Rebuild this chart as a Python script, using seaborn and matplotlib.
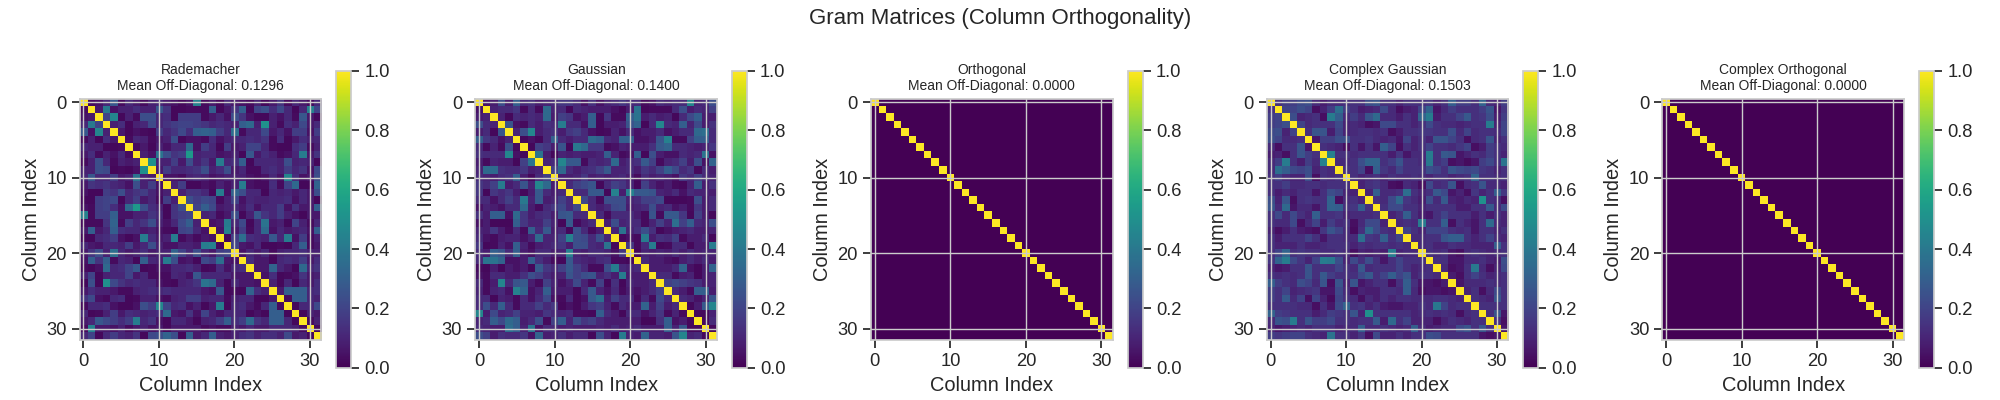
import numpy as np
import matplotlib
matplotlib.use("Agg")
import matplotlib.pyplot as plt
import seaborn as sns

N_COLS = 32

titles = ["Rademacher", "Gaussian", "Orthogonal", "Complex Gaussian", "Complex Orthogonal"]
mean_off_diag = [0.1296, 0.1400, 0.0000, 0.1503, 0.0000]

# Upper triangles of the Gram matrices in hundredths, one list per row above the diagonal.
rademacher_rows = [
    [3,5,11,27,3,11,7,3,9,11,7,5,2,5,44,3,7,2,11,7,5,3,9,2,7,15,3,11,7,3,11],
    [7,40,5,9,9,13,9,9,27,15,2,2,3,3,3,30,2,7,15,30,2,20,24,13,22,11,2,11,44,20],
    [20,46,2,9,3,24,24,11,13,2,18,18,18,3,7,11,5,24,15,5,2,2,9,5,11,3,27,7,2],
    [9,13,2,9,11,22,11,15,18,20,20,18,15,11,13,11,9,30,34,9,50,9,3,13,9,22,7,12],
    [7,2,5,3,2,18,11,15,22,13,30,32,30,18,11,36,3,11,11,22,7,11,5,18,18,5,18],
    [3,11,9,3,7,9,24,2,5,5,3,13,5,9,11,11,13,11,15,3,13,2,7,13,9,11],
    [3,7,2,9,5,11,11,34,5,18,11,2,18,7,9,20,20,11,3,2,2,13,18,3,9],
    [9,5,38,24,15,18,54,9,11,11,5,7,9,2,27,7,13,9,3,5,11,42,7,15],
    [50,9,9,18,7,24,9,15,7,42,11,13,30,2,11,11,11,9,24,9,11,9,2],
    [7,18,11,11,13,15,24,9,13,24,7,11,3,3,11,13,9,18,11,15,5,22],
    [5,5,3,9,11,9,5,7,9,9,9,5,3,5,11,5,46,13,5,7,24],
    [9,18,2,2,5,3,9,5,9,42,5,3,3,13,3,20,34,2,2,32],
    [9,15,15,11,2,42,5,32,24,11,11,2,11,9,11,7,11,7,24],
    [24,18,22,20,3,9,20,5,11,9,9,11,11,13,5,11,7,2],
    [20,30,22,7,9,11,7,13,5,11,11,18,5,15,7,7,30],
    [9,11,3,7,24,2,9,27,15,11,18,9,5,2,7,7],
    [5,7,42,11,22,2,11,38,7,9,2,20,9,3,11],
    [5,44,7,18,3,11,34,5,11,7,9,11,5,30],
    [2,18,36,13,11,9,27,11,42,5,18,3,9],
    [20,7,5,11,2,2,3,2,11,30,3,7],
    [5,11,7,11,3,9,11,11,13,9,9],
    [13,7,7,2,11,13,11,18,7,13],
    [7,7,32,11,7,2,34,11,15],
    [5,13,2,3,5,15,7,9],
    [9,2,11,2,11,7,13],
    [7,30,30,30,11,13],
    [3,30,30,11,9],
    [2,11,11,22],
    [2,9,7],
    [3,9],
    [2],
]

gaussian_rows = [
    [5,8,24,8,30,12,14,8,10,12,16,16,12,5,14,5,10,12,16,12,12,3,5,12,10,12,12,46,10,12,24],
    [10,12,12,16,3,12,3,34,10,12,2,12,10,8,8,8,5,2,8,38,2,3,3,3,12,24,8,12,10,19],
    [10,2,12,10,12,10,34,8,19,16,5,8,30,2,16,3,3,30,38,8,12,8,10,2,12,22,30,8,8],
    [26,5,3,12,8,14,12,42,12,12,5,30,2,8,8,10,26,32,2,12,46,12,10,30,10,22,8,14],
    [10,24,46,8,12,14,8,16,19,12,5,2,3,10,5,12,5,8,8,12,5,8,12,12,34,36,12],
    [2,5,2,12,30,12,8,12,12,34,30,12,10,30,30,5,5,8,26,44,3,3,19,30,30,12],
    [2,19,16,8,26,2,40,34,16,16,3,5,10,8,8,8,14,28,32,12,12,10,8,10,16],
    [38,8,2,10,8,10,8,8,10,30,10,3,5,30,2,24,8,5,5,12,10,12,38,5],
    [10,12,46,28,28,3,12,10,12,34,8,12,14,28,19,3,10,12,19,8,24,5,32],
    [19,34,12,8,12,14,19,28,10,10,12,8,16,12,19,30,22,12,16,3,12,8],
    [8,8,10,16,8,10,8,10,12,8,3,12,8,10,8,5,16,12,19,12,10],
    [12,19,22,26,2,12,19,16,10,2,19,10,5,8,3,2,10,30,8,14],
    [12,12,28,28,2,44,8,44,28,28,26,10,8,12,5,12,10,10,8],
    [22,12,3,24,24,24,10,12,19,19,22,2,2,2,3,24,8,12],
    [12,8,12,22,24,8,10,12,24,10,12,5,8,3,16,8,12],
    [12,3,12,12,12,8,3,26,3,28,28,16,2,19,8,2],
    [8,24,10,12,12,3,10,19,10,36,19,30,12,10,24],
    [10,38,10,14,24,14,2,5,8,10,12,8,8,10],
    [2,5,3,42,8,14,12,19,3,8,8,12,2],
    [16,3,12,42,2,3,12,12,2,8,8,42],
    [2,10,8,10,8,12,8,12,8,10,10],
    [12,8,8,5,3,8,12,8,12,8],
    [8,8,8,12,32,5,2,8,32],
    [12,12,3,8,10,2,8,10],
    [19,22,19,16,14,8,10],
    [12,8,3,30,30,8],
    [12,10,5,10,26],
    [2,8,28,46],
    [2,2,10],
    [2,12],
    [2],
]

complex_gaussian_rows = [
    [14,18,18,22,24,12,8,12,12,14,14,14,24,26,14,14,10,14,14,14,16,10,14,30,18,18,14,32,12,10,18],
    [20,20,24,20,4,10,18,36,18,14,8,10,12,22,12,4,8,10,20,32,6,12,18,14,14,14,18,26,6,16],
    [24,10,12,14,4,42,30,12,18,12,26,34,12,12,8,14,10,32,42,8,14,14,20,28,14,16,24,8,18],
    [20,12,14,14,14,22,10,12,10,4,6,22,22,14,14,10,14,22,14,12,12,10,12,14,14,42,10,20],
    [14,26,26,8,20,10,12,14,14,12,14,4,8,14,14,16,16,14,14,24,12,20,12,14,14,12,20],
    [6,18,18,24,24,14,14,16,12,10,12,6,20,10,14,10,26,26,20,14,4,12,14,26,10,14],
    [14,12,10,4,14,6,14,6,30,20,4,14,10,14,20,14,14,12,16,20,4,8,18,14,12],
    [44,14,14,12,14,14,14,14,8,16,6,12,12,42,14,28,26,6,10,14,12,18,14,10],
    [12,12,14,24,32,32,14,18,26,14,14,12,40,14,18,4,6,3,6,18,22,14,38],
    [14,14,20,4,30,16,12,20,14,14,14,24,20,14,26,22,20,22,16,14,10,14],
    [14,10,12,14,10,14,12,12,14,12,10,14,14,10,12,14,32,14,14,12,14],
    [10,14,16,12,4,3,12,10,4,22,12,14,26,4,12,14,26,12,12,10],
    [10,30,12,12,14,36,14,10,14,28,22,6,10,4,16,10,14,30,16],
    [14,12,22,34,16,12,8,24,12,28,10,8,12,10,50,14,12,4],
    [14,22,22,14,14,10,14,14,14,14,8,8,14,14,28,12,22],
    [10,14,30,14,8,6,14,20,14,14,14,8,14,8,14,10],
    [12,14,12,42,14,14,30,4,14,10,6,14,34,12,10],
    [20,14,10,20,20,20,14,12,14,6,14,14,10,14],
    [12,12,14,14,26,30,30,14,10,14,20,12,10],
    [12,14,10,10,14,12,12,10,10,10,30,14],
    [14,12,14,6,4,12,14,12,10,12,14],
    [14,14,6,6,12,12,14,10,8,24],
    [12,4,6,14,40,12,4,10,22],
    [8,4,14,20,14,10,12,14],
    [6,12,12,12,14,12,14],
    [10,14,4,12,22,14],
    [14,12,10,26,14],
    [14,14,14,14],
    [14,26,6],
    [14,4],
    [6],
]


def gram_from_rows(rows):
    """Build the symmetric Gram matrix with a unit diagonal."""
    gram = np.eye(N_COLS)
    for i, row in enumerate(rows):
        for offset, value in enumerate(row):
            j = i + 1 + offset
            gram[i, j] = gram[j, i] = value / 100
    return gram


matrices = [
    gram_from_rows(rademacher_rows),
    gram_from_rows(gaussian_rows),
    np.eye(N_COLS),
    gram_from_rows(complex_gaussian_rows),
    np.eye(N_COLS),
]

sns.set_theme(style="whitegrid", context="notebook", font_scale=1.2)
plt.rcParams["font.family"] = ["Liberation Sans", "DejaVu Sans"]
plt.rcParams.update({"xtick.bottom": True, "ytick.left": True})

fig, axes = plt.subplots(1, 5, figsize=(20, 4), dpi=100)
for ax, gram, name, mean_value in zip(axes, matrices, titles, mean_off_diag):
    im = ax.imshow(gram, cmap="viridis", vmin=0, vmax=1)
    ax.set_title(f"{name}\nMean Off-Diagonal: {mean_value:.4f}", fontsize=10)
    ax.set_xlabel("Column Index")
    ax.set_ylabel("Column Index")
    fig.colorbar(im, ax=ax)

fig.suptitle("Gram Matrices (Column Orthogonality)", fontsize=16)
fig.tight_layout()
fig.savefig("out.png", dpi=100)
